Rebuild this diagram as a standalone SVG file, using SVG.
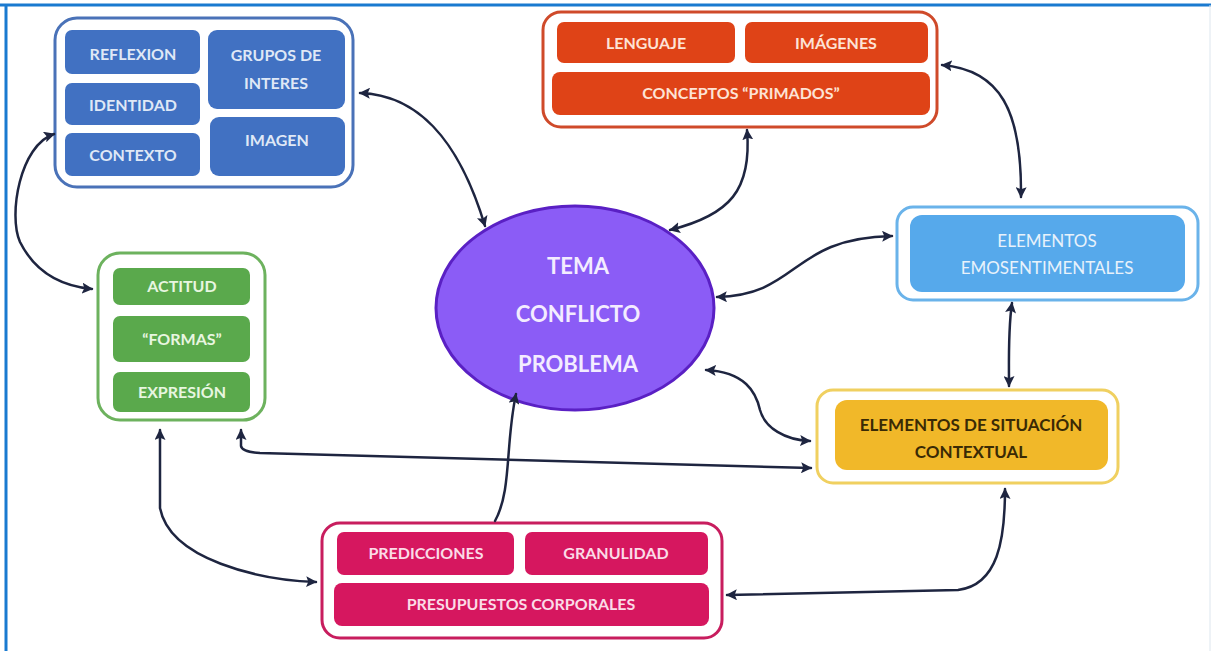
<svg xmlns="http://www.w3.org/2000/svg" width="1211" height="651" viewBox="0 0 1211 651">
<defs>
<marker id="ah" viewBox="0 0 10 10" refX="9" refY="5" markerWidth="11" markerHeight="11" markerUnits="userSpaceOnUse" orient="auto-start-reverse">
<path d="M0,0 L10,5 L0,10 L2,5 Z" fill="#1e2540"/>
</marker>
<style>
.t{font-family:Lato,"Open Sans",sans-serif;font-weight:bold;font-size:16px;text-anchor:middle}
.e{font-size:22px}
.c{fill:none;stroke:#1e2540;stroke-width:2.5;stroke-linecap:round}
.ob{fill:#fff;stroke:#4a72b8;stroke-width:3}
.ib{fill:#4171c2}
.tb{fill:#dfe8f6}
.or{fill:#fff;stroke:#cf4a2a;stroke-width:3}
.ir{fill:#df4317}
.tr{fill:#fde3d6}
.og{fill:#fff;stroke:#6db25e;stroke-width:3}
.ig{fill:#5aa94c}
.tg{fill:#e8f6e0}
.om{fill:#fff;stroke:#c81d5e;stroke-width:3}
.im{fill:#d6175f}
.tm{fill:#fbdbe7}
</style>
</defs>
<rect width="1211" height="651" fill="#fff"/>
<line x1="0" y1="5" x2="1211" y2="5" stroke="#1a7ad0" stroke-width="3"/>
<line x1="6" y1="5" x2="6" y2="651" stroke="#1a7ad0" stroke-width="3"/>
<line x1="1210" y1="5" x2="1210" y2="651" stroke="#dde6ee" stroke-width="1"/>

<g id="grupo-azul">
<rect class="ob" x="55" y="18" width="298" height="169" rx="22"/>
<rect class="ib" x="65" y="30" width="135" height="44" rx="7"/>
<rect class="ib" x="65" y="83" width="135" height="42" rx="7"/>
<rect class="ib" x="65" y="133" width="135" height="43" rx="7"/>
<rect class="ib" x="208" y="30" width="137" height="79" rx="9"/>
<rect class="ib" x="210" y="117" width="135" height="59" rx="9"/>
<text class="t tb" x="133" y="60">REFLEXION</text>
<text class="t tb" x="133" y="111">IDENTIDAD</text>
<text class="t tb" x="133" y="161">CONTEXTO</text>
<text class="t tb" x="276" y="61">GRUPOS DE</text>
<text class="t tb" x="276" y="89">INTERES</text>
<text class="t tb" x="277" y="146">IMAGEN</text>
</g>

<g id="grupo-rojo">
<rect class="or" x="543" y="12" width="394" height="115" rx="18"/>
<rect class="ir" x="557" y="22" width="178" height="41" rx="7"/>
<rect class="ir" x="745" y="22" width="183" height="41" rx="7"/>
<rect class="ir" x="552" y="72" width="378" height="43" rx="8"/>
<text class="t tr" x="646" y="49">LENGUAJE</text>
<text class="t tr" x="836" y="49">IMÁGENES</text>
<text class="t tr" x="741" y="99">CONCEPTOS “PRIMADOS”</text>
</g>

<g id="tema">
<ellipse cx="575" cy="308" rx="139" ry="102" fill="#8b5cf6" stroke="#5a20c4" stroke-width="3"/>
<text class="t e" x="578" y="274" fill="#f3ecff">TEMA</text>
<text class="t e" x="578" y="322" fill="#f3ecff">CONFLICTO</text>
<text class="t e" x="578" y="372" fill="#f3ecff">PROBLEMA</text>
</g>

<g id="emosentimentales">
<rect x="897" y="207" width="301" height="93" rx="16" fill="#fff" stroke="#6ab3ea" stroke-width="3"/>
<rect x="910" y="215" width="275" height="77" rx="12" fill="#56a9eb"/>
<text class="t" x="1047" y="247" fill="#e8f2fb" style="font-weight:normal;font-size:17px">ELEMENTOS</text>
<text class="t" x="1047" y="274" fill="#e8f2fb" style="font-weight:normal;font-size:17px">EMOSENTIMENTALES</text>
</g>

<g id="situacion">
<rect x="817" y="390" width="301" height="93" rx="16" fill="#fff" stroke="#f0d060" stroke-width="3"/>
<rect x="835" y="400" width="273" height="70" rx="12" fill="#f1b829"/>
<text class="t" x="971" y="431" fill="#3a2a05" style="font-size:17px">ELEMENTOS DE SITUACIÓN</text>
<text class="t" x="971" y="458" fill="#3a2a05" style="font-size:17px">CONTEXTUAL</text>
</g>

<g id="grupo-verde">
<rect class="og" x="98" y="253" width="167" height="167" rx="22"/>
<rect class="ig" x="113" y="268" width="137" height="37" rx="7"/>
<rect class="ig" x="113" y="316" width="137" height="46" rx="7"/>
<rect class="ig" x="113" y="372" width="137" height="40" rx="7"/>
<text class="t tg" x="182" y="292">ACTITUD</text>
<text class="t tg" x="182" y="345">“FORMAS”</text>
<text class="t tg" x="182" y="398">EXPRESIÓN</text>
</g>

<g id="grupo-magenta">
<rect class="om" x="322" y="523" width="400" height="115" rx="18"/>
<rect class="im" x="337" y="532" width="177" height="43" rx="7"/>
<rect class="im" x="525" y="532" width="183" height="43" rx="7"/>
<rect class="im" x="334" y="583" width="375" height="43" rx="8"/>
<text class="t tm" x="426" y="559">PREDICCIONES</text>
<text class="t tm" x="616" y="559">GRANULIDAD</text>
<text class="t tm" x="521" y="610">PRESUPUESTOS CORPORALES</text>
</g>

<g id="connectors">
<path class="c" d="M360 93 C430 95 465 160 485 226" marker-start="url(#ah)" marker-end="url(#ah)"/>
<path class="c" d="M670 230 C730 215 752 190 747 130" marker-start="url(#ah)" marker-end="url(#ah)"/>
<path class="c" d="M942 65 C1000 70 1022 110 1021 197" marker-start="url(#ah)" marker-end="url(#ah)"/>
<path class="c" d="M717 297 C800 295 790 238 892 236" marker-start="url(#ah)" marker-end="url(#ah)"/>
<path class="c" d="M1012 303 C1008 330 1009 360 1009 386" marker-start="url(#ah)" marker-end="url(#ah)"/>
<path class="c" d="M706 370 C745 372 756 392 760 410 C765 428 785 440 810 441" marker-start="url(#ah)" marker-end="url(#ah)"/>
<path class="c" d="M241 430 L241 446 Q242 452 260 453 L811 468" marker-start="url(#ah)" marker-end="url(#ah)"/>
<path class="c" d="M160 430 L160 508 C170 560 260 580 316 582" marker-start="url(#ah)" marker-end="url(#ah)"/>
<path class="c" d="M495 521 C512 490 505 445 516 394" marker-end="url(#ah)"/>
<path class="c" d="M727 595 L958 590 C998 585 1005 540 1005 489" marker-start="url(#ah)" marker-end="url(#ah)"/>
<path class="c" d="M54 134 C20 145 8 215 20 242 C35 272 60 286 92 289" marker-start="url(#ah)" marker-end="url(#ah)"/>
</g>
</svg>
